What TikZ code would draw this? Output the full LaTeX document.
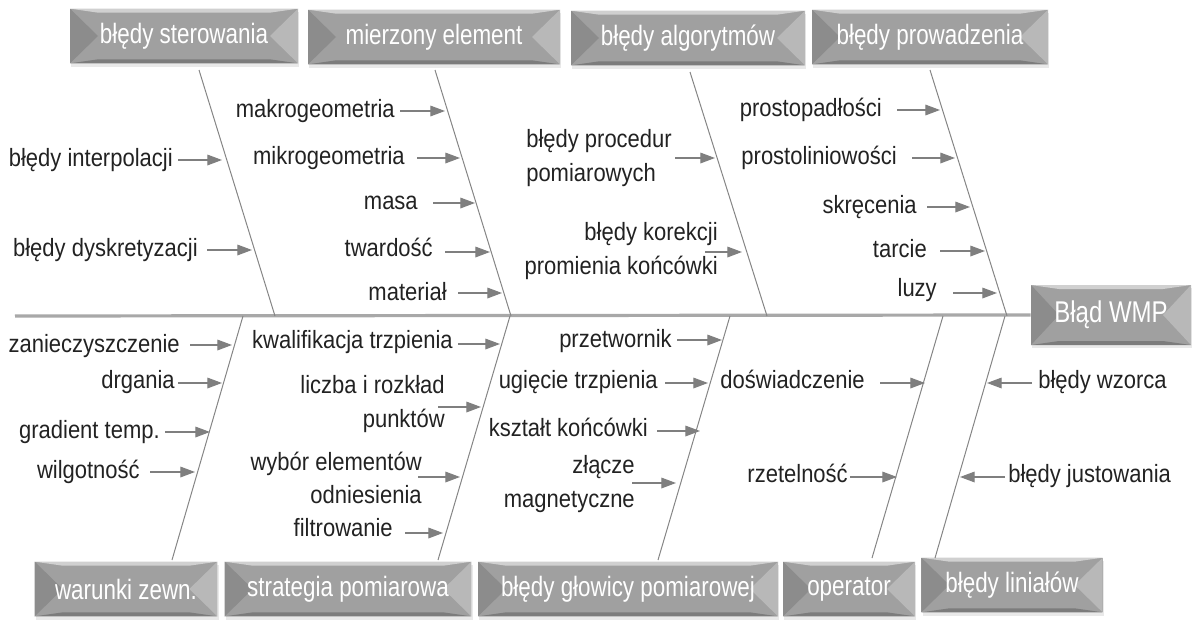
\documentclass[tikz,border=0pt]{standalone}
\usepackage{fontspec}
\setmainfont[FakeStretch=0.88]{Liberation Sans}
\newfontfamily\boxfont[FakeStretch=0.8]{Liberation Sans}
\usetikzlibrary{arrows.meta,shadows,calc}
\definecolor{txt}{HTML}{222222}
\definecolor{arrgray}{HTML}{7F7F7F}
\definecolor{bonegray}{HTML}{858585}
\definecolor{spinegray}{HTML}{A8A8A8}
\definecolor{boxgray}{HTML}{A0A0A0}
\definecolor{bvdark}{HTML}{8C8C8C}
\definecolor{bvlight}{HTML}{B8B8B8}
\definecolor{bvtop}{HTML}{D0D0D0}
\definecolor{bvbot}{HTML}{7C7C7C}
\begin{document}
\begin{tikzpicture}[x=0.75pt,y=-0.75pt,
  lbl/.style={font=\fontsize{18.75}{25}\selectfont, text=txt, inner sep=0pt},
  lblm/.style={lbl, align=right},
  arr/.style={draw=arrgray, line width=0.9pt, -{Triangle[length=11pt,width=8pt]}},
  bone/.style={draw=bonegray, line width=0.75pt},
  spine/.style={draw=spinegray, line width=2.4pt},
  cat/.style={minimum width=#1, minimum height=41pt, inner sep=0pt,
    fill=boxgray, text=white, font=\boxfont\fontsize{21}{24}\selectfont,
    drop shadow={shadow xshift=1pt, shadow yshift=-2.5pt, opacity=0.22, fill=black!40},
    path picture={
      \fill[bvdark] (path picture bounding box.north west) -- ([shift={(28,0)}]path picture bounding box.west) -- (path picture bounding box.south west) -- cycle;
      \fill[bvlight] (path picture bounding box.north east) -- ([shift={(-28,0)}]path picture bounding box.east) -- (path picture bounding box.south east) -- cycle;
      \fill[bvtop] (path picture bounding box.north west) -- (path picture bounding box.north east) -- ([shift={(-28,4)}]path picture bounding box.north east) -- ([shift={(28,4)}]path picture bounding box.north west) -- cycle;
      \fill[bvbot] (path picture bounding box.south west) -- (path picture bounding box.south east) -- ([shift={(-28,-4)}]path picture bounding box.south east) -- ([shift={(28,-4)}]path picture bounding box.south west) -- cycle;
    }}]
\useasboundingbox (0,0) rectangle (1192,621);

% category boxes
\node[cat=171pt] (c1) at (184,36) {błędy sterowania};
\node[cat=189pt] (c2) at (434,37) {mierzony element};
\node[cat=175.5pt] (c3) at (688,38) {błędy algorytmów};
\node[cat=177pt] (c4) at (930,37) {błędy prowadzenia};
\node[cat=137pt] (c5) at (126,589) {warunki zewn.};
\node[cat=185pt] (c6) at (348,589) {strategia pomiarowa};
\node[cat=225pt] (c7) at (628,589) {błędy głowicy pomiarowej};
\node[cat=99pt] (c8) at (849,589) {operator};
\node[cat=136pt] (c9) at (1012,585) {błędy liniałów};
\node[cat=120pt, minimum height=45pt, font=\boxfont\fontsize{22.5}{26}\selectfont] (wmp) at (1111,315) {Błąd WMP};

% spine
\coordinate (sp0) at (15,316);
\draw[spine] (sp0) -- (wmp.west);

% bones
\coordinate (k1a) at (199,70);  \coordinate (k1b) at (275,316);
\coordinate (k2a) at (435,70);  \coordinate (k2b) at (511,316);
\coordinate (k3a) at (690,72);  \coordinate (k3b) at (767,316);
\coordinate (k4a) at (930,70);  \coordinate (k4b) at (1007,316);
\coordinate (k5a) at (243,316); \coordinate (k5b) at (172,560);
\coordinate (k6a) at (510,316); \coordinate (k6b) at (438,560);
\coordinate (k7a) at (730,316); \coordinate (k7b) at (658,560);
\coordinate (k8a) at (943,316); \coordinate (k8b) at (872,558);
\coordinate (k9a) at (1005,316);\coordinate (k9b) at (935,558);
\foreach \i in {1,...,9} {\draw[bone] (k\i a) -- (k\i b);}

% ---- top labels ----
\node[lbl, anchor=base east] (t1) at (173,166.5) {błędy interpolacji};
\coordinate (t1e) at (222,160);
\draw[arr] ($(t1.east|-t1e)+(5,0)$) -- (t1e);
\node[lbl, anchor=base east] (t2) at (198,256.5) {błędy dyskretyzacji};
\coordinate (t2e) at (252,250);
\draw[arr] ($(t2.east|-t2e)+(9,0)$) -- (t2e);

\node[lbl, anchor=base east] (t3) at (395,117.5) {makrogeometria};
\coordinate (t3e) at (445,111);
\draw[arr] ($(t3.east|-t3e)+(5,0)$) -- (t3e);
\node[lbl, anchor=base east] (t4) at (405,164.5) {mikrogeometria};
\coordinate (t4e) at (460,158);
\draw[arr] ($(t4.east|-t4e)+(12,0)$) -- (t4e);
\node[lbl, anchor=base east] (t5) at (418,209.5) {masa};
\coordinate (t5e) at (475,203);
\draw[arr] ($(t5.east|-t5e)+(15,0)$) -- (t5e);
\node[lbl, anchor=base east] (t6) at (433,256.5) {twardość};
\coordinate (t6e) at (490,252);
\draw[arr] ($(t6.east|-t6e)+(12,0)$) -- (t6e);
\node[lbl, anchor=base east] (t7) at (447,300.5) {materiał};
\coordinate (t7e) at (502,293);
\draw[arr] ($(t7.east|-t7e)+(11,0)$) -- (t7e);

\node[lbl, align=left, anchor=west] (t8) at (526,158) {błędy procedur\\pomiarowych};
\coordinate (t8e) at (715,158);
\draw[arr] ($(t8.east|-t8e)+(3,0)$) -- (t8e);
\node[lblm, anchor=east] (t9) at (718,251) {błędy korekcji\\promienia końcówki};
\coordinate (t9e) at (742,252);
\draw[arr] ($(t9.east|-t9e)+(-13,0)$) -- (t9e);

\node[lbl, anchor=base east] (t10) at (882,116.5) {prostopadłości};
\coordinate (t10e) at (940,110);
\draw[arr] ($(t10.east|-t10e)+(15,0)$) -- (t10e);
\node[lbl, anchor=base east] (t11) at (897,164.5) {prostoliniowości};
\coordinate (t11e) at (955,158);
\draw[arr] ($(t11.east|-t11e)+(15,0)$) -- (t11e);
\node[lbl, anchor=base east] (t12) at (917,213.5) {skręcenia};
\coordinate (t12e) at (970,207);
\draw[arr] ($(t12.east|-t12e)+(10,0)$) -- (t12e);
\node[lbl, anchor=base east] (t13) at (927,257.5) {tarcie};
\coordinate (t13e) at (985,251);
\draw[arr] ($(t13.east|-t13e)+(13,0)$) -- (t13e);
\node[lbl, anchor=base east] (t14) at (937,296.5) {luzy};
\coordinate (t14e) at (997,293);
\draw[arr] ($(t14.east|-t14e)+(16,0)$) -- (t14e);

% ---- bottom labels ----
\node[lbl, anchor=base east] (b1) at (180,352.5) {zanieczyszczenie};
\coordinate (b1e) at (232,345);
\draw[arr] ($(b1.east|-b1e)+(10,0)$) -- (b1e);
\node[lbl, anchor=base east] (b2) at (175,388.5) {drgania};
\coordinate (b2e) at (222,383);
\draw[arr] ($(b2.east|-b2e)+(3,0)$) -- (b2e);
\node[lbl, anchor=base east] (b3) at (160,438.5) {gradient temp.};
\coordinate (b3e) at (210,432);
\draw[arr] ($(b3.east|-b3e)+(5,0)$) -- (b3e);
\node[lbl, anchor=base east] (b4) at (140,478.5) {wilgotność};
\coordinate (b4e) at (195,472);
\draw[arr] ($(b4.east|-b4e)+(10,0)$) -- (b4e);

\node[lbl, anchor=base east] (b5) at (453,348.5) {kwalifikacja trzpienia};
\coordinate (b5e) at (500,344);
\draw[arr] ($(b5.east|-b5e)+(5,0)$) -- (b5e);
\node[lblm, anchor=east] (b6) at (445,404) {liczba i rozkład\\punktów};
\coordinate (b6e) at (481,407);
\draw[arr] ($(b6.east|-b6e)+(-7,0)$) -- (b6e);
\node[lblm, anchor=east] (b7) at (422,478) {wybór elementów\\odniesienia};
\coordinate (b7e) at (460,477);
\draw[arr] ($(b7.east|-b7e)+(-4,0)$) -- (b7e);
\node[lbl, anchor=base east] (b8) at (393,536.5) {filtrowanie};
\coordinate (b8e) at (443,533);
\draw[arr] ($(b8.east|-b8e)+(12,0)$) -- (b8e);

\node[lbl, anchor=base east] (b9) at (672,347.5) {przetwornik};
\coordinate (b9e) at (722,340);
\draw[arr] ($(b9.east|-b9e)+(5,0)$) -- (b9e);
\node[lbl, anchor=base east] (b10) at (658,388.5) {ugięcie trzpienia};
\coordinate (b10e) at (708,383);
\draw[arr] ($(b10.east|-b10e)+(7,0)$) -- (b10e);
\node[lbl, anchor=base east] (b11) at (648,436.5) {kształt końcówki};
\coordinate (b11e) at (700,431);
\draw[arr] ($(b11.east|-b11e)+(9,0)$) -- (b11e);
\node[lblm, anchor=east] (b12) at (635,484) {złącze\\magnetyczne};
\coordinate (b12e) at (676,483);
\draw[arr] ($(b12.east|-b12e)+(-3,0)$) -- (b12e);

\node[lbl, anchor=base east] (b13) at (865,388.5) {doświadczenie};
\coordinate (b13e) at (925,383);
\draw[arr] ($(b13.east|-b13e)+(15,0)$) -- (b13e);
\node[lbl, anchor=base east] (b14) at (848,482.5) {rzetelność};
\coordinate (b14e) at (897,477);
\draw[arr] ($(b14.east|-b14e)+(2,0)$) -- (b14e);

\node[lbl, anchor=base west] (b15) at (1038,388.5) {błędy wzorca};
\coordinate (b15e) at (987,383);
\draw[arr] ($(b15.west|-b15e)+(-6,0)$) -- (b15e);
\node[lbl, anchor=base west] (b16) at (1008,482.5) {błędy justowania};
\coordinate (b16e) at (960,477);
\draw[arr] ($(b16.west|-b16e)+(-3,0)$) -- (b16e);
\end{tikzpicture}
\end{document}
